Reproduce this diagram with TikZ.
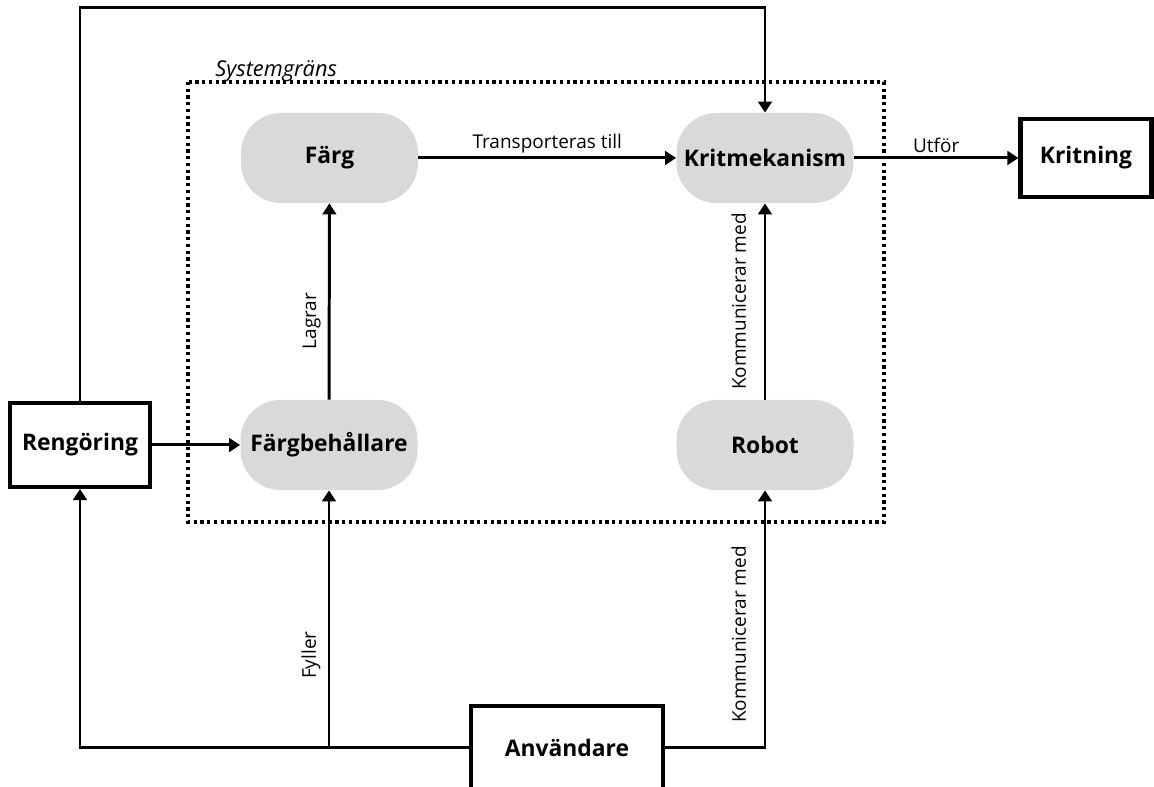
\documentclass[tikz,border=0pt]{standalone}
\usepackage{fontspec}
\setmainfont{Open Sans}
\usetikzlibrary{arrows.meta}
\definecolor{blobgray}{HTML}{D9D9D9}
\begin{document}
\begin{tikzpicture}[
		blob/.style={fill=blobgray, rounded corners=0.8cm, minimum width=3.54cm, minimum height=1.8cm, font=\fontsize{13}{15}\selectfont\bfseries},
		box/.style={draw, line width=2.3pt, fill=white, font=\fontsize{13}{15}\selectfont\bfseries},
		arr/.style={line width=1.7pt, -{Triangle[length=0.22cm, width=0.27cm]}},
		lbl/.style={font=\fontsize{10.8}{13}\selectfont, inner sep=2pt},
	]
		\useasboundingbox (0, 0) rectangle (23.08, 15.74);
		\draw[line width=2pt, dash pattern=on 0.065cm off 0.07cm] (3.76, 14.1) rectangle (17.68, 5.3);
		\node[anchor=base west, font=\fontsize{12.4}{14}\selectfont\itshape, inner sep=0pt] (sysname) at (4.3, 14.2) {Systemgräns};
		\node[blob] (farg) at (6.59, 12.58) {Färg};
		\node[blob] (krit) at (15.3, 12.58) {Kritmekanism};
		\node[blob] (fbeh) at (6.58, 6.84) {Färgbehållare};
		\node[blob] (robot) at (15.3, 6.84) {Robot};
		\node[box, minimum width=2.62cm, minimum height=1.56cm] (kritning) at (21.72, 12.58) {Kritning};
		\node[box, minimum width=2.8cm, minimum height=1.68cm] (reng) at (1.6, 6.84) {Rengöring};
		\node[box, minimum width=3.84cm, minimum height=1.68cm] (anv) at (11.34, 0.78) {Användare};
		\coordinate (topR) at (15.3, 15.58);
		\coordinate (fyll) at (fbeh.south |- anv.west);
		\draw[arr] (farg) -- node[lbl, above] {Transporteras till} (krit);
		\draw[arr] (krit) -- node[lbl, above] {Utför} (kritning);
		\draw[arr] (fbeh) -- node[lbl, pos=0.4, above=2pt, sloped] {Lagrar} (farg);
		\draw[arr] (robot) -- node[lbl, above=8pt, sloped] {Kommunicerar med} (krit);
		\draw[arr] (reng) -- (fbeh);
		\draw[arr] (reng.north) |- (topR) -- (krit.north);
		\draw[arr] (anv.west) -| (reng.south);
		\draw[arr] (fyll) -- node[lbl, pos=0.36, above=2pt, sloped] {Fyller} (fbeh.south);
		\draw[arr] (anv.east) -| node[lbl, pos=0.72, above=8pt, sloped] {Kommunicerar med} (robot.south);
	\end{tikzpicture}
\end{document}
